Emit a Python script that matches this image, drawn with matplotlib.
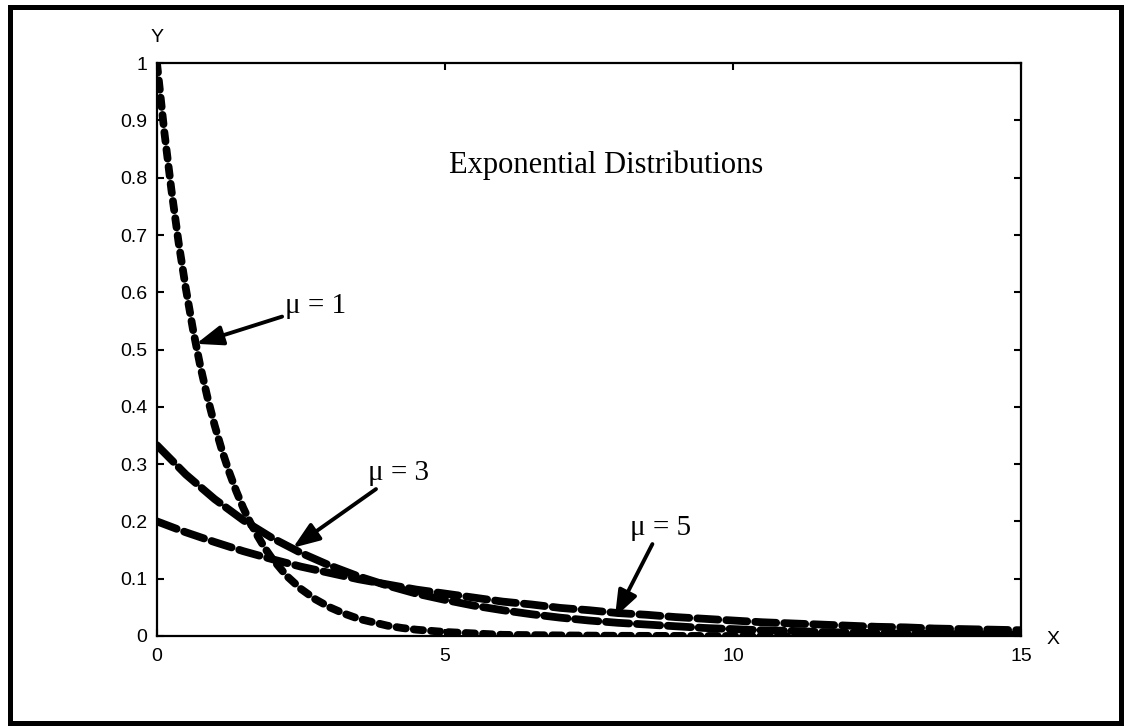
import numpy as np
import matplotlib.pyplot as plt
from matplotlib.patches import Rectangle

# mu = 1, sampled finer near the origin where it drops fast
x1 = [0, 0.125, 0.25, 0.375, 0.5, 0.625, 0.75, 0.875, 1, 1.125, 1.25, 1.375, 1.5,
      1.625, 1.75, 1.875, 2, 2.25, 2.5, 2.75, 3, 3.25, 3.5, 3.75, 4, 4.25, 4.5,
      4.75, 5, 6, 7, 8, 9, 10, 11, 12, 13, 14, 15]
y1 = [1.000, 0.882, 0.779, 0.687, 0.607, 0.535, 0.472, 0.417, 0.368, 0.325, 0.287,
      0.253, 0.223, 0.197, 0.174, 0.153, 0.135, 0.105, 0.082, 0.064, 0.050, 0.039,
      0.030, 0.024, 0.018, 0.014, 0.011, 0.009, 0.007, 0.002, 0.001, 0.0003,
      0.0001, 0, 0, 0, 0, 0, 0]

# mu = 3 and mu = 5 on a half-unit grid
x35 = [0, 0.5, 1, 1.5, 2, 2.5, 3, 3.5, 4, 4.5, 5, 5.5, 6, 6.5, 7, 7.5, 8, 8.5, 9,
       9.5, 10, 10.5, 11, 11.5, 12, 12.5, 13, 13.5, 14, 14.5, 15]
y3 = [0.333, 0.282, 0.239, 0.202, 0.171, 0.145, 0.123, 0.104, 0.088, 0.074, 0.063,
      0.053, 0.045, 0.038, 0.032, 0.027, 0.023, 0.020, 0.017, 0.014, 0.012, 0.010,
      0.009, 0.007, 0.006, 0.005, 0.004, 0.004, 0.003, 0.003, 0.002]
y5 = [0.200, 0.181, 0.164, 0.148, 0.134, 0.121, 0.110, 0.099, 0.090, 0.081, 0.074,
      0.067, 0.060, 0.055, 0.049, 0.045, 0.040, 0.037, 0.033, 0.030, 0.027, 0.024,
      0.022, 0.020, 0.018, 0.016, 0.015, 0.013, 0.012, 0.011, 0.010]

xticks = [0, 5, 10, 15]
xticklabels = ['0', '5', '10', '15']
yticks = [0, 0.1, 0.2, 0.3, 0.4, 0.5, 0.6, 0.7, 0.8, 0.9, 1]
yticklabels = ['0', '0.1', '0.2', '0.3', '0.4', '0.5', '0.6', '0.7', '0.8', '0.9', '1']

fig = plt.figure(figsize=(11.27, 7.26), dpi=100)
ax = fig.add_axes([0.1393, 0.124, 0.7667, 0.789])

# chains of rounded dashes whose caps just touch
style = dict(color='black', linewidth=5.6, dash_capstyle='round',
             solid_capstyle='round')
ax.plot(x1, y1, linestyle=(0, (1.2, 1.03)), **style)
ax.plot(x35, y3, linestyle=(0, (3.0, 0.98)), **style)
ax.plot(x35, y5, linestyle=(0, (2.7, 1.03)), **style)

ax.set_xlim(0, 15)
ax.set_ylim(0, 1)
ax.set_xticks(xticks)
ax.set_xticklabels(xticklabels)
ax.set_yticks(yticks)
ax.set_yticklabels(yticklabels)
ax.tick_params(axis='both', direction='in', top=True, right=True, length=5,
               width=1.5, labelsize=14)
ax.tick_params(axis='x', pad=9)
ax.tick_params(axis='y', pad=7)
for lab in ax.get_xticklabels() + ax.get_yticklabels():
    lab.set_family('Liberation Sans')
for sp in ax.spines.values():
    sp.set_linewidth(1.6)

ax.text(0, 1.045, 'Y', transform=ax.transAxes, ha='center', va='center',
        fontsize=14, family='Liberation Sans')
ax.text(1.0365, -0.007, 'X', transform=ax.transAxes, ha='center', va='center',
        fontsize=14, family='Liberation Sans')

ax.text(10.52, 0.822, 'Exponential Distributions', ha='right', va='center',
        fontsize=22, family='Liberation Serif')

arrow = dict(arrowstyle='-|>,head_length=0.8,head_width=0.3', color='black',
             lw=2.8, shrinkA=0, shrinkB=0, mutation_scale=20)
lbl = dict(fontsize=21, family='Liberation Serif', ha='left', va='center',
           arrowprops=arrow)
ax.annotate('μ = 1', xy=(0.68, 0.51), xytext=(2.22, 0.576), **lbl)
ax.annotate('μ = 3', xy=(2.36, 0.154), xytext=(3.66, 0.284), **lbl)
ax.annotate('μ = 5', xy=(7.95, 0.033), xytext=(8.21, 0.188), **lbl)

# heavy frame around the whole figure
fig.patches.append(Rectangle((9.5 / 1127, 3 / 726), 1111 / 1127, 716 / 726,
                             transform=fig.transFigure, fill=False,
                             edgecolor='black', linewidth=3.6))

fig.savefig('out.png', dpi=100)
